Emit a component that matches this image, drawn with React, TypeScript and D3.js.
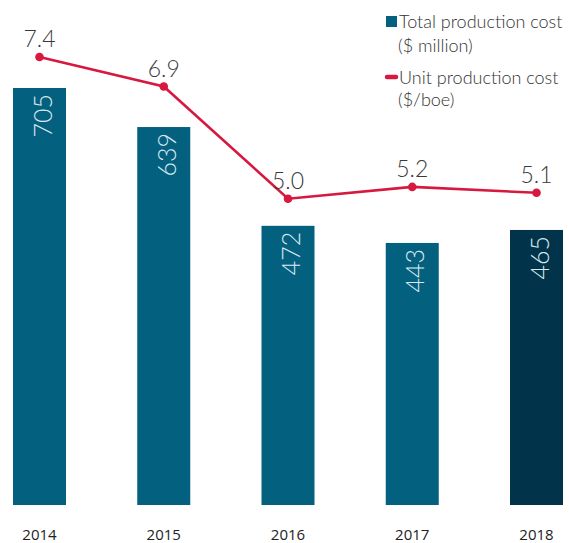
import React from "react";
import * as d3 from "d3";

const years = ["2014", "2015", "2016", "2017", "2018"];
const totalCost = [705, 639, 472, 443, 465];
const unitCost = [7.4, 6.9, 5.0, 5.2, 5.1];
const unitLabels = ["7.4", "6.9", "5.0", "5.2", "5.1"];
const legendItems = [
  ["Total production cost", "($ million)"],
  ["Unit production cost", "($/boe)"],
];

const W = 569;
const H = 543;
const FONT = "Lato, 'Open Sans', sans-serif";

export default function App() {
  const x = d3.scalePoint<string>().domain(years).range([39.5, 536.5]);
  const yBar = d3.scaleLinear().domain([0, 705]).range([505, 88]);
  const yLine = d3.scaleLinear().domain([0, 7.4]).range([494, 57]);
  const barW = 53;
  const line = d3
    .line<number>()
    .x((_, i) => x(years[i]) as number)
    .y((d) => yLine(d));

  return (
    <svg
      width={W}
      height={H}
      style={{ position: "absolute", left: 0, top: 0, background: "#fff" }}
      fontFamily={FONT}
    >
      {totalCost.map((v, i) => {
        const cx = x(years[i]) as number;
        return (
          <g key={years[i]}>
            <rect
              x={cx - barW / 2}
              y={yBar(v)}
              width={barW}
              height={yBar(0) - yBar(v)}
              fill={i === 4 ? "#01344b" : "#04607f"}
            />
            <text
              transform={`translate(${cx + 12},${yBar(v) + 6}) rotate(-90)`}
              textAnchor="end"
              fontSize={25}
              fontWeight={300}
              fill="#dbe9ef"
            >
              {v}
            </text>
            <text
              x={cx}
              y={540}
              textAnchor="middle"
              fontSize={15}
              fontFamily="'Open Sans', sans-serif"
              fill="#222"
            >
              {years[i]}
            </text>
          </g>
        );
      })}
      <path
        d={line(unitCost) || ""}
        fill="none"
        stroke="#d7183f"
        strokeWidth={2.6}
      />
      {unitCost.map((v, i) => (
        <g key={"p" + i}>
          <circle cx={x(years[i])} cy={yLine(v)} r={4.3} fill="#d7183f" />
          <text
            x={x(years[i])}
            y={yLine(v) - 10}
            textAnchor="middle"
            fontSize={23}
            fontWeight={300}
            fill="#3a3a3a"
          >
            {unitLabels[i]}
          </text>
        </g>
      ))}
      <g>
        <rect x={386} y={16} width={11} height={11} fill="#04607f" />
        <text x={399} y={28} fontSize={18} fill="#333" fontWeight={300}>
          {legendItems[0][0]}
        </text>
        <text x={398} y={52} fontSize={18} fill="#333" fontWeight={300}>
          {legendItems[0][1]}
        </text>
        <line
          x1={387}
          x2={396}
          y1={77}
          y2={77}
          stroke="#d7183f"
          strokeWidth={4.5}
          strokeLinecap="round"
        />
        <text x={399} y={84} fontSize={18} fill="#333" fontWeight={300}>
          {legendItems[1][0]}
        </text>
        <text x={398} y={106} fontSize={18} fill="#333" fontWeight={300}>
          {legendItems[1][1]}
        </text>
      </g>
    </svg>
  );
}
